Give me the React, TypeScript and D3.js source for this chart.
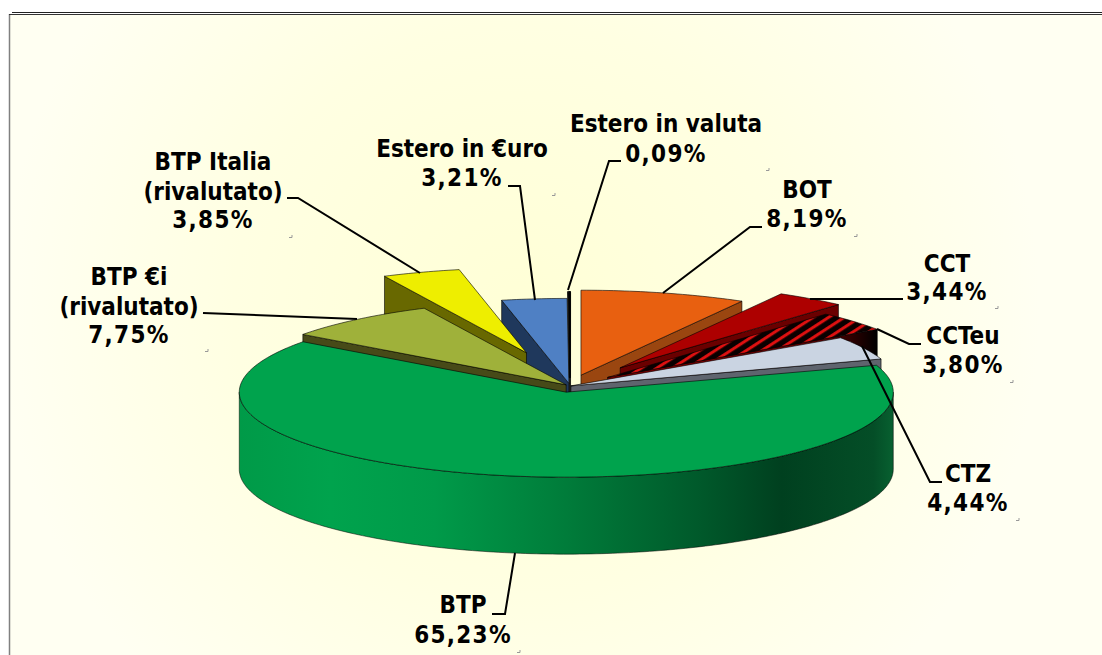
import React from "react";
import * as d3 from "d3";

// ---- data ----
const names = ["Estero in valuta", "BOT", "CCT", "CCTeu", "CTZ", "BTP", "BTP €i", "BTP Italia", "Estero in €uro"];
const values = [0.09, 8.19, 3.44, 3.8, 4.44, 65.23, 7.75, 3.85, 3.21];
const percentLabels = ["0,09%", "8,19%", "3,44%", "3,80%", "4,44%", "65,23%", "7,75%", "3,85%", "3,21%"];
const explosions = [34, 43, 86, 50, 1, 24, 6, 135, 10];

// ---- style ----
const topColors = ["#0a0a0a", "#e86010", "#ad0000", "url(#hatch)", "#cad4e2", "#00a34d", "#9fb13a", "#eeee00", "#4f80c4"];
const sideColors = ["#0a0a0a", "#9a4610", "#6a0000", "url(#hatchSide)", "#5f646e", "#00a34d", "#474a18", "#686800", "#1f385c"];
const strokeWidths = [2.2, 0.7, 0.7, 0.7, 0.7, 0.7, 0.7, 0.7, 0.7];
const paintOrder = [8, 7, 0, 1, 2, 3, 4, 6, 5];

const W = 1102, H = 655;
const cx = 570, cy = 386, rx = 327, ry = 85, depth = 77;
const k = ry / rx;
const a0 = (-0.32 * Math.PI) / 180;

// label layout: centre x, then one baseline per line
const labelLayout = [
  { x: 666, extra: [], y: [132, 162] },
  { x: 807, extra: [], y: [198, 227] },
  { x: 947, extra: [], y: [272, 300] },
  { x: 963, extra: [], y: [344, 373] },
  { x: 968, extra: [], y: [482, 511] },
  { x: 463, extra: [], y: [613, 643] },
  { x: 129, extra: ["(rivalutato)"], y: [285, 315, 343] },
  { x: 213, extra: ["(rivalutato)"], y: [170, 200, 228] },
  { x: 462, extra: [], y: [157, 186] },
];
const leaders: [number, number][][] = [
  [[568, 290], [609, 161], [621, 161]],
  [[663, 293], [750, 227], [762, 227]],
  [[810, 299], [903, 299]],
  [[877, 329], [909, 344], [921, 344]],
  [[862, 346], [930, 482], [942, 482]],
  [[515, 553], [505, 614], [492, 614]],
  [[357, 319], [203, 313]],
  [[420, 273], [298, 198], [287, 198]],
  [[535, 300], [520, 186], [508, 186]],
];
const specks: [number, number][] = [
  [768, 170], [554, 195], [856, 236], [997, 308], [1012, 382], [1018, 520], [519, 652], [291, 237], [207, 351],
];

const pieGen = d3.pie<number>().sort(null).value((d) => d).startAngle(a0).endAngle(a0 + 2 * Math.PI);
const arcs = pieGen(values);
const line = d3.line();
const px = d3.scaleLinear().domain([-1, 1]).range([-rx, rx]);
const py = d3.scaleLinear().domain([-1, 1]).range([-ry, ry]);

function apex(i: number): [number, number] {
  const a = (arcs[i].startAngle + arcs[i].endAngle) / 2;
  const e = explosions[i];
  return [cx + e * Math.sin(a), cy - e * Math.cos(a) * k];
}
function rim(i: number, a: number, dz = 0): [number, number] {
  const [ax, ay] = apex(i);
  return [ax + px(Math.sin(a)), ay - py(Math.cos(a)) + dz];
}
function sample(a: number, b: number) {
  const n = Math.max(2, Math.ceil(Math.abs(b - a) * 60));
  return d3.range(n + 1).map((j) => a + ((b - a) * j) / n);
}
function topPath(i: number) {
  const s = arcs[i];
  return line([apex(i), ...sample(s.startAngle, s.endAngle).map((a) => rim(i, a))]) + "Z";
}
function cutPath(i: number, a: number) {
  const [ax, ay] = apex(i);
  return line([[ax, ay], rim(i, a), rim(i, a, depth), [ax, ay + depth]]) + "Z";
}
function wallPath(i: number) {
  const s = arcs[i];
  const from = Math.max(s.startAngle, Math.PI / 2);
  const to = Math.min(s.endAngle, (3 * Math.PI) / 2);
  const t = sample(from, to);
  return line([...t.map((a) => rim(i, a)), ...t.slice().reverse().map((a) => rim(i, a, depth))]) + "Z";
}

const FONT = "'DejaVu Sans', sans-serif";

export default function App() {
  return (
    <svg width={W} height={H} viewBox={`0 0 ${W} ${H}`} style={{ position: "absolute", left: 0, top: 0, display: "block" }}>
      <defs>
        <radialGradient id="bg" gradientUnits="userSpaceOnUse" cx={520} cy={310} r={520}>
          <stop offset="0" stopColor="#ffffd6" />
          <stop offset="0.55" stopColor="#ffffe2" />
          <stop offset="1" stopColor="#fffff2" />
        </radialGradient>
        <linearGradient id="wall" gradientUnits="userSpaceOnUse" x1={239} x2={893} y1={0} y2={0}>
          <stop offset="0" stopColor="#009a48" />
          <stop offset="0.14" stopColor="#00a34d" />
          <stop offset="0.3" stopColor="#009a49" />
          <stop offset="0.5" stopColor="#007c3a" />
          <stop offset="0.7" stopColor="#005a2b" />
          <stop offset="0.83" stopColor="#00401f" />
          <stop offset="0.97" stopColor="#044e27" />
          <stop offset="1" stopColor="#086030" />
        </linearGradient>
        <linearGradient id="hatchSide" gradientUnits="userSpaceOnUse" x1={700} x2={877} y1={0} y2={0}>
          <stop offset="0" stopColor="#7a0000" />
          <stop offset="0.7" stopColor="#5c0000" />
          <stop offset="1" stopColor="#000000" />
        </linearGradient>
        <pattern id="hatch" patternUnits="userSpaceOnUse" width={20} height={8.5} patternTransform="rotate(-33)">
          <rect width={20} height={8.5} fill="#0a0000" />
          <rect width={20} height={3} y={2} fill="#e01010" />
        </pattern>
      </defs>

      <rect x={0} y={0} width={W} height={H} fill="#ffffff" />
      <rect x={10} y={14} width={W} height={H} fill="url(#bg)" />
      <line x1={9.5} y1={14} x2={9.5} y2={H} stroke="#808080" strokeWidth={1.5} />
      <line x1={12} y1={12.5} x2={W} y2={12.5} stroke="#222" strokeWidth={1} />
      <line x1={9} y1={14.5} x2={W} y2={14.5} stroke="#333" strokeWidth={1} />

      {specks.map(([x, y], i) => (
        <path key={i} d={`M${x - 2},${y + 0.5}H${x + 1}V${y - 2}`} fill="none" stroke="#999" strokeWidth={1} />
      ))}

      {paintOrder.map((i) => {
        const s = arcs[i];
        const mid = (s.startAngle + s.endAngle) / 2;
        const isBig = i === 5;
        const cutA = mid > Math.PI ? s.startAngle : s.endAngle;
        return (
          <g key={names[i]} stroke="#000" strokeWidth={strokeWidths[i]} strokeOpacity={0.85} strokeLinejoin="round">
            {!isBig && <path d={cutPath(i, cutA)} fill={sideColors[i]} />}
            {isBig && <path d={wallPath(i)} fill="url(#wall)" strokeWidth={0.6} />}
            <path d={topPath(i)} fill={topColors[i]} />
          </g>
        );
      })}

      {leaders.map((pts, i) => (
        <path key={i} d={line(pts) as string} fill="none" stroke="#000" strokeWidth={2} />
      ))}

      {labelLayout.map((l, i) => {
        const lines = [names[i], ...l.extra, percentLabels[i]];
        return (
          <text key={i} textAnchor="middle" fontFamily={FONT} fontWeight={700} fontSize={24} fill="#000" style={{ fontStretch: "condensed" }}>
            {lines.map((t, j) => (
              <tspan key={j} x={l.x} y={l.y[j]} letterSpacing={j === lines.length - 1 ? 1.3 : 0}>{t}</tspan>
            ))}
          </text>
        );
      })}
    </svg>
  );
}
